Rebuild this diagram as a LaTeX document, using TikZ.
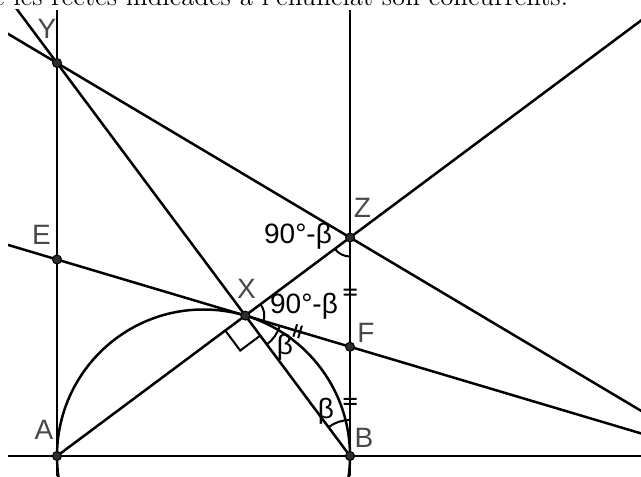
\documentclass[tikz,border=0pt]{standalone}
\usepackage{fontspec}
\usepackage{tikz}
\usetikzlibrary{calc,decorations.markings}
\newfontfamily\geofont{Liberation Sans}
\definecolor{labelGray}{RGB}{72,72,72}
\definecolor{pointGray}{RGB}{45,45,45}
\tikzset{
  geoline/.style={line width=1.25pt},
  anglearc/.style={line width=1pt},
  ptlabel/.style={font=\geofont\fontsize{14}{16}\selectfont, text=labelGray, inner sep=0pt},
  anglabel/.style={font=\geofont\fontsize{14}{16}\selectfont, inner sep=0pt},
  geopoint/.style={fill=pointGray, draw=black, line width=0.5pt},
  dbltick/.style={postaction={decorate}, decoration={markings,
    mark=at position 0.5 with {\draw[line width=1pt] (-1.25pt,-3.25pt) -- (-1.25pt,3.25pt) (1.25pt,-3.25pt) -- (1.25pt,3.25pt);}}}
}

\begin{document}
\begin{tikzpicture}[x=0.5pt, y=0.5pt]
  \useasboundingbox (0,0) rectangle (641,476);
  \clip (0,0) rectangle (641,476);

  % Statement, cut at the top
  \node[anchor=base west, inner sep=0pt, font=\fontsize{13.4}{16}\selectfont] (stmt) at (13,470)
    {\llap{que }les rectes indicades a l'enunciat són concurrents.};

  % Diameter AB and the two tangents
  \coordinate (A) at (57,20);
  \coordinate (B) at (350,20);
  \coordinate (O) at (203.5,20);
  \coordinate (Y) at (57,413);
  \coordinate (Bt) at (350,466);
  \coordinate (X) at ($(Y)!(A)!(B)$);
  \coordinate (Z) at (intersection of A--X and B--Bt);
  \coordinate (E) at ($(A)!0.5!(Y)$);
  \coordinate (F) at ($(B)!0.5!(Z)$);

  \begin{scope}
    \clip (8,0) rectangle (641,466);
    \draw[geoline] (0,20) -- (641,20);
    \draw[geoline] (57,0) -- (57,466);
    \draw[geoline] (350,0) -- (350,466);
    \draw[geoline] (O) circle (146.5);

    % Rays from A and B, lines YZ and EF
    \draw[geoline] (B) -- ($(B)!1.5!(Y)$);
    \draw[geoline] (A) -- ($(A)!3!(Z)$);
    \draw[geoline] ($(Y)!-1!(Z)$) -- ($(Y)!3!(Z)$);
    \draw[geoline] ($(E)!-1!(F)$) -- ($(E)!3!(F)$);

    % Equal tangent lengths
    \path[dbltick] (Z) -- (F);
    \path[dbltick] (F) -- (B);
    \path[dbltick] (X) -- (F);

    % Angle arcs at Z, X and B
    \draw[anglearc] ($(Z)+(216.71:19)$) arc[start angle=216.71, end angle=270, radius=19];
    \draw[anglearc] ($(X)+(-16.59:19)$) arc[start angle=-16.59, end angle=36.71, radius=19];
    \draw[anglearc] ($(X)+(-53.29:36)$) arc[start angle=-53.29, end angle=-16.59, radius=36];
    \draw[anglearc] ($(B)+(90:36)$) arc[start angle=90, end angle=126.71, radius=36];
    \draw[anglearc, shift={(X)}, rotate=-53.29] (25,0) -- (25,-25) -- (0,-25);

    % Points
    \foreach \p in {A,B,X,Y,Z,E,F}
      \filldraw[geopoint] (\p) circle (4.5);
  \end{scope}

  % Point labels
  \node[ptlabel] (labY) at ($(Y)+(-10,34)$) {Y};
  \node[ptlabel] (labE) at ($(E)+(-15.5,25)$) {E};
  \node[ptlabel] (labZ) at ($(Z)+(12.5,29.5)$) {Z};
  \node[ptlabel] (labX) at ($(X)+(1.2,26.6)$) {X};
  \node[ptlabel] (labF) at ($(F)+(16,13.8)$) {F};
  \node[ptlabel] (labA) at ($(A)+(-13,26)$) {A};
  \node[ptlabel] (labB) at ($(B)+(14,18)$) {B};

  % Angle labels
  \node[anglabel] (angZ) at (298,240) {90°-β};
  \node[anglabel] (angX) at (304,170) {90°-β};
  \node[anglabel] (angXb) at (285,129) {β};
  \node[anglabel] (angB) at (326,65) {β};
\end{tikzpicture}
\end{document}
